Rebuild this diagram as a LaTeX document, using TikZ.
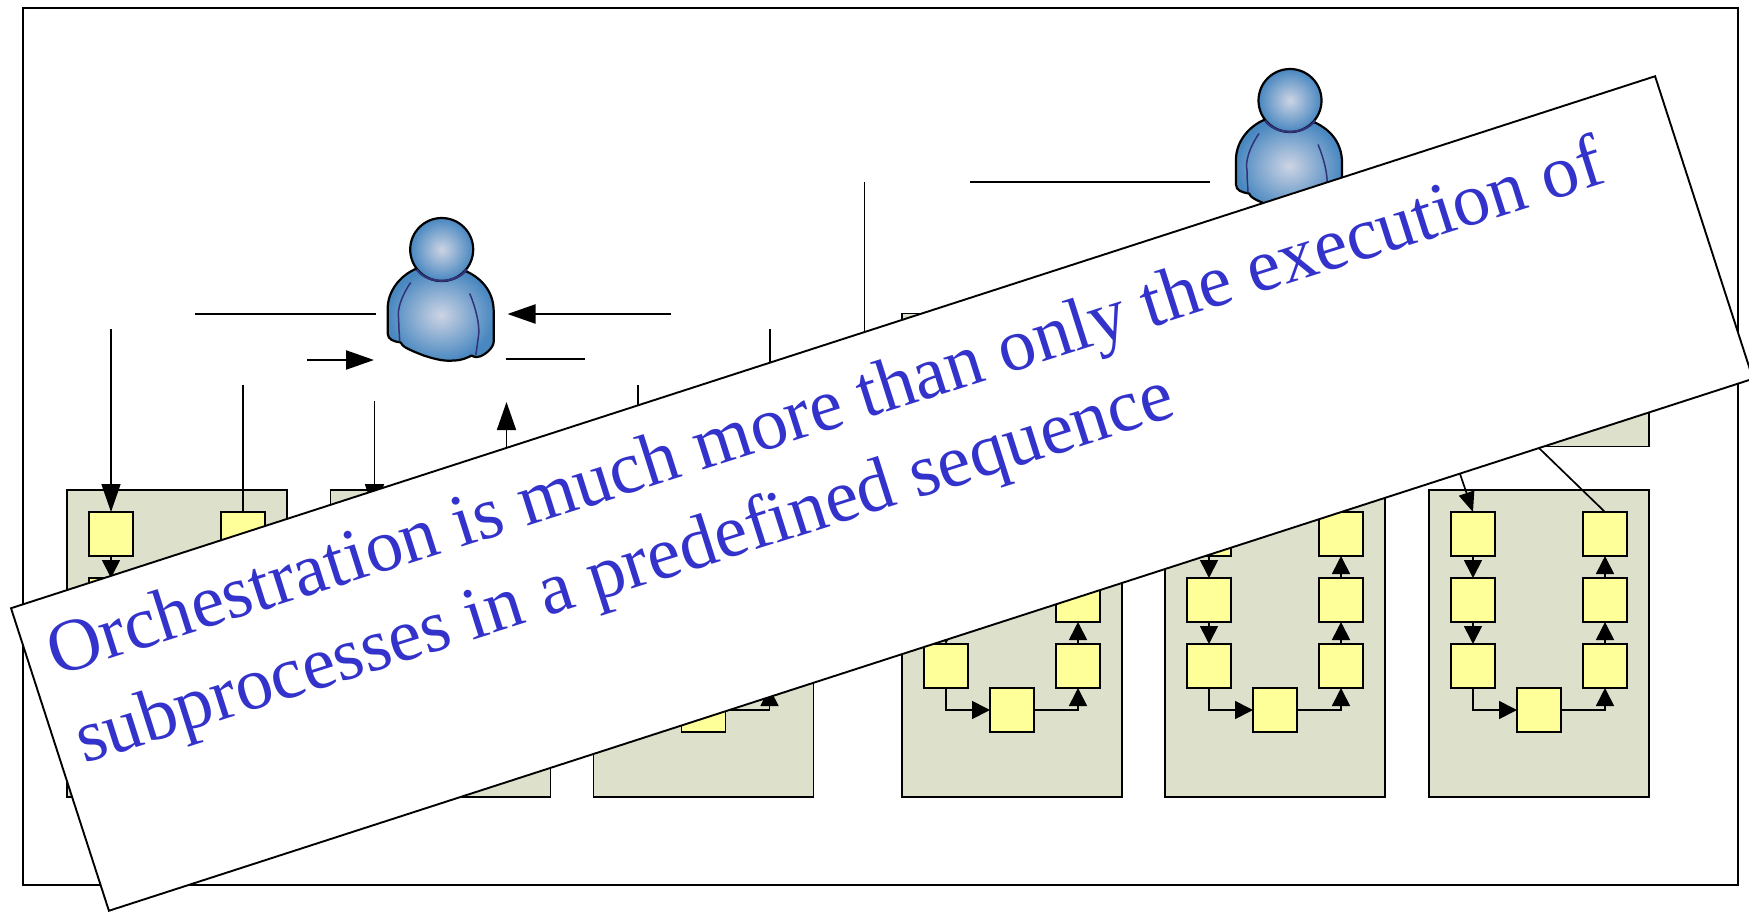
\documentclass[tikz,border=0pt]{standalone}
\usepackage{fontspec}
\setmainfont{Liberation Serif}
\usetikzlibrary{arrows.meta}
\definecolor{paneltone}{RGB}{221,225,204}
\definecolor{boxtone}{RGB}{255,255,153}
\definecolor{captiontone}{RGB}{51,51,204}
\definecolor{seamtone}{RGB}{50,50,120}
\definecolor{skinin}{RGB}{205,212,228}
\definecolor{skinout}{RGB}{72,135,192}
\tikzset{
  x=1pt,y=-1pt,
  outerframe/.style={draw=black,line width=2pt,fill=white},
  panelbox/.style={draw=black,line width=1.9pt,fill=paneltone,inner sep=0pt,outer sep=0pt},
  stagebox/.style={draw=black,line width=1.9pt,fill=boxtone,inner sep=0pt,outer sep=0pt,minimum size=44pt},
  innerlink/.style={draw=black,line width=1.7pt,-{Triangle[length=18pt,width=18pt]}},
  slantlink/.style={draw=black,line width=1.7pt,-{Triangle[length=20pt,width=16pt]}},
  outerarrow/.style={draw=black,line width=1.7pt,-{Triangle[length=28pt,width=19pt]}},
  outerarrowh/.style={draw=black,line width=2.2pt,-{Triangle[length=28pt,width=19pt]}},
  plainlink/.style={draw=black,line width=1.7pt},
  plainlinkh/.style={draw=black,line width=2.2pt},
  person/.pic={
    \path[shade,inner color=skinin,outer color=skinout,draw=black,line width=2.2pt,line join=round]
      (-25,19) .. controls (-42,26) and (-54,42) .. (-54,59) -- (-54,84)
      .. controls (-54,90) and (-48,92) .. (-41,93)
      .. controls (-39,97) and (-36,99) .. (-18,106)
      .. controls (-6,110) and (4,112) .. (12,111)
      .. controls (20,111) and (26,108) .. (30,106)
      .. controls (33,108) and (36,108) .. (38,107)
      .. controls (44,105) and (52,98) .. (52,92) -- (52,62)
      .. controls (52,44) and (42,30) .. (25,22) -- cycle;
    \draw[seamtone,line width=1.5pt] (-31,33) .. controls (-40,46) and (-45,60) .. (-43,70) .. controls (-43,80) and (-42,88) .. (-42,92);
    \draw[seamtone,line width=1.5pt] (28,44) .. controls (34,58) and (38,75) .. (37,85) .. controls (36,92) and (35,100) .. (34,106);
    \path[shade,inner color=skinin,outer color=skinout,draw=black,line width=2.2pt] (0,0) circle[radius=31.5];
    \draw[seamtone,line width=2.2pt] (-25,20) .. controls (-14,35) and (14,35) .. (25,20);
  }
}
\begin{document}
\begin{tikzpicture}
\path[use as bounding box,clip] (0,0) rectangle (1749,911);
\fill[white] (0,0) rectangle (1749,911);
\node[outerframe,inner sep=0pt,minimum width=1715pt,minimum height=877pt] (frame) at (880.5,446.5) {};
\node[panelbox,minimum width=747pt,minimum height=133pt] (upper) at (1275.5,380) {};
\foreach \p/\x in {1/67,2/330.5,3/593.5,4/902,5/1165,6/1429}{
  \node[panelbox,minimum width=220pt,minimum height=307pt] (panel\p) at (\x+110,643.5) {};
  \node[stagebox] (p\p-a1) at (\x+44,534) {};
  \node[stagebox] (p\p-a2) at (\x+44,600) {};
  \node[stagebox] (p\p-a3) at (\x+44,666) {};
  \node[stagebox] (p\p-m)  at (\x+110,710) {};
  \node[stagebox] (p\p-c3) at (\x+176,666) {};
  \node[stagebox] (p\p-c2) at (\x+176,600) {};
  \node[stagebox] (p\p-c1) at (\x+176,534) {};
  \draw[innerlink] (p\p-a1) -- (p\p-a2);
  \draw[innerlink] (p\p-a2) -- (p\p-a3);
  \draw[innerlink] (p\p-a3.south) |- (p\p-m.west);
  \draw[innerlink] (p\p-m.east) -| (p\p-c3.south);
  \draw[innerlink] (p\p-c3) -- (p\p-c2);
  \draw[innerlink] (p\p-c2) -- (p\p-c1);
}
\pic at (441.7,249.5) {person};
\pic at (1290,100.5) {person};
\coordinate (f1) at (111,329);
\coordinate (f2) at (243,385);
\coordinate (f3) at (374.5,401);
\coordinate (f4) at (506.5,402);
\coordinate (f5) at (638,385);
\coordinate (f6) at (770,329);
\coordinate (h1a) at (195,314);
\coordinate (h1b) at (376,314);
\coordinate (h2a) at (671,314);
\coordinate (h2b) at (507.5,314);
\coordinate (h3a) at (307,360);
\coordinate (h3b) at (374,360);
\coordinate (h4a) at (505.5,359);
\coordinate (h4b) at (585,359);
\coordinate (v1a) at (864.5,182);
\coordinate (v1b) at (864.5,360);
\coordinate (h5a) at (970,182);
\coordinate (h5b) at (1210,182);
\coordinate (s1) at (1450.5,446);
\coordinate (s2) at (1510,420);
\draw[outerarrow] (f1) -- (p1-a1.north);
\draw[plainlink] (f2) -- (p1-c1.north);
\draw[outerarrow] (f3) -- (p2-a1.north);
\draw[outerarrow] (p2-c1.north) -- (f4);
\draw[plainlink] (f5) -- (p3-a1.north);
\draw[plainlink] (f6) -- (p3-c1.north);
\draw[plainlinkh] (h1a) -- (h1b);
\draw[outerarrowh] (h2a) -- (h2b);
\draw[outerarrowh] (h3a) -- (h3b);
\draw[plainlinkh] (h4a) -- (h4b);
\draw[plainlink] (v1a) -- (v1b);
\draw[plainlinkh] (h5a) -- (h5b);
\draw[slantlink] (s1) -- (p6-a1.north);
\draw[plainlink] (s2) -- (p6-c1.north);
\node[draw=black,line width=1.9pt,fill=white,inner sep=0pt,outer sep=0pt,rotate=17.93,minimum width=1728pt,minimum height=318pt] (banner) at (882,493.5) {};
\node[rotate=17.65,anchor=north west,inner sep=0pt,align=left,text=captiontone,font=\fontsize{74.6}{92}\selectfont] (caption) at (40,626)
  {Orchestration is much more than only the execution of\\subprocesses in a predefined sequence};
\end{tikzpicture}
\end{document}
